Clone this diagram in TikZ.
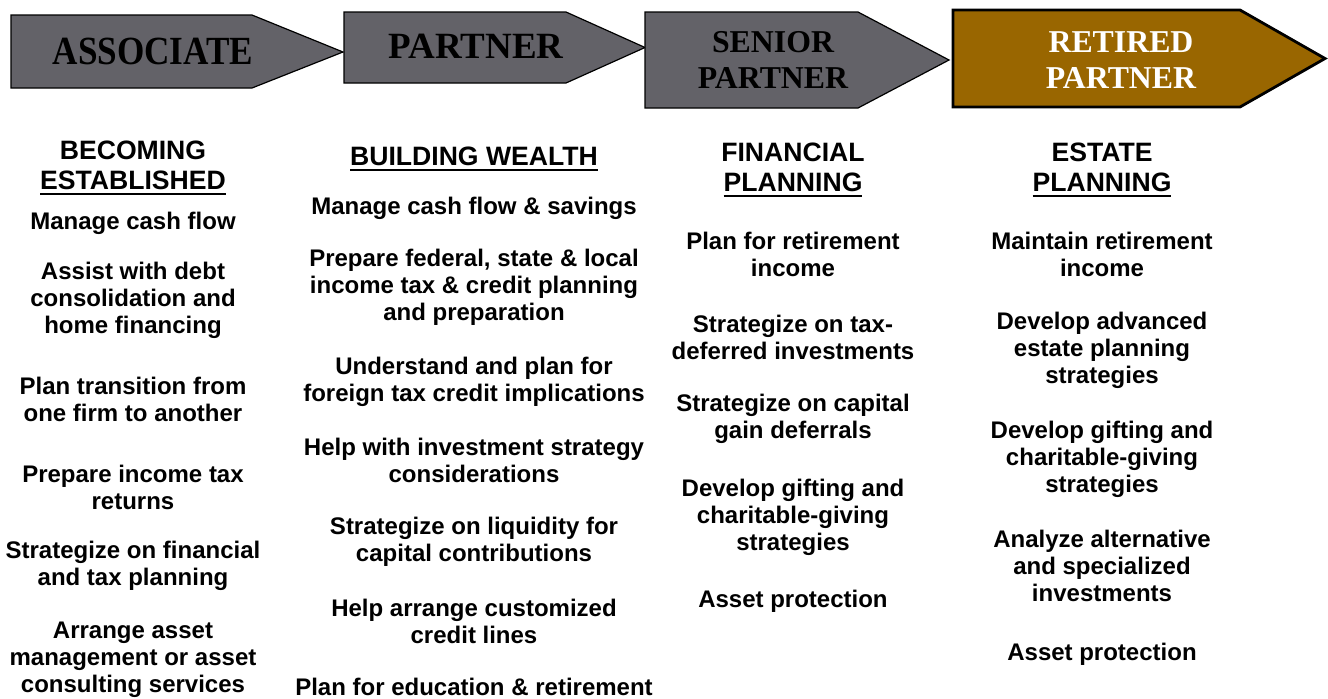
\documentclass[tikz,border=0pt]{standalone}
\usepackage{fontspec}
\setmainfont{Liberation Serif}
\setsansfont{Liberation Sans}
\usetikzlibrary{positioning}
\definecolor{stagegray}{RGB}{99,98,104}
\definecolor{retiredbrown}{RGB}{153,102,0}
\newcommand{\ulword}[1]{\setbox0\hbox{#1}\rlap{\rule[-3pt]{\wd0}{1pt}}\box0}

\begin{document}
\begin{tikzpicture}[x=0.5pt,y=-0.5pt]

\tikzset{stage/.style = {draw=black,fill=stagegray,line width=0.6pt,line join=miter}}
\tikzset{stagetext/.style = {inner sep=0pt,align=center,font=\bfseries\fontsize{18.5}{18}\selectfont}}
\tikzset{stagetwo/.style = {stagetext,font=\bfseries\fontsize{15.9}{18}\selectfont}}
\tikzset{head/.style = {inner sep=0pt,align=center,font=\sffamily\bfseries\fontsize{13.3}{15}\selectfont}}
\tikzset{item/.style = {inner sep=0pt,align=center,font=\sffamily\bfseries\fontsize{12}{13.5}\selectfont}}

\useasboundingbox (0,0) rectangle (1328,698);

%arrows
\draw[stage] (11,15) -- (252,15) -- (343,52) -- (252,88) -- (11,88) -- cycle;
\draw[stage] (344,12) -- (566,12) -- (645,47.5) -- (566,83) -- (344,83) -- cycle;
\draw[stage] (645,12) -- (858,12) -- (949,60) -- (858,108) -- (645,108) -- cycle;
\draw[stage,fill=retiredbrown,line width=1.4pt] (953,10) -- (1240,10) -- (1325,58.5) -- (1240,107) -- (953,107) -- cycle;

\node[stagetext] (associate) at (153,51) {\scalebox{0.95}[1.08]{ASSOCIATE}};
\node[stagetext] (partner) at (476,46) {PARTNER};
\node[stagetwo] (senior) at (773,60) {SENIOR\\PARTNER};
\node[stagetwo,text=white] (retired) at (1121,60) {RETIRED\\PARTNER};

%column 1
\node[head] (becoming) at (133,168) {BECOMING\\\ulword{ESTABLISHED}};
\node[item] (cash) at (133,223) {Manage cash flow};
\node[item] (debt) at (133,300) {Assist with debt\\consolidation and\\home financing};
\node[item] (transition) at (133,399) {Plan transition from\\one firm to another};
\node[item] (returns) at (133,487) {Prepare income tax\\returns};
\node[item] (fintax) at (133,566) {Strategize on financial\\and tax planning};
\node[item] (assetmgmt) at (133,660) {Arrange asset\\management or asset\\consulting services};

%column 2
\node[head] (wealth) at (474,159) {\ulword{BUILDING WEALTH}};
\node[item] (savings) at (474,208) {Manage cash flow \& savings};
\node[item] (taxprep) at (474,287) {Prepare federal, state \& local\\income tax \& credit planning\\and preparation};
\node[item] (foreign) at (474,382) {Understand and plan for\\foreign tax credit implications};
\node[item] (invest) at (474,460) {Help with investment strategy\\considerations};
\node[item] (liquidity) at (474,542) {Strategize on liquidity for\\capital contributions};
\node[item] (credit) at (474,621) {Help arrange customized\\credit lines};
\node[item] (education) at (474,687) {Plan for education \& retirement};

%column 3
\node[head] (financial) at (793,170) {FINANCIAL\\\ulword{PLANNING}};
\node[item] (retincome) at (793,254) {Plan for retirement\\income};
\node[item] (taxdef) at (793,337) {Strategize on tax-\\deferred investments};
\node[item] (capgain) at (793,419) {Strategize on capital\\gain deferrals};
\node[item] (gifting) at (793,517) {Develop gifting and\\charitable-giving\\strategies};
\node[item] (protect) at (793,601) {Asset protection};

%column 4
\node[head] (estate) at (1102,170) {ESTATE\\\ulword{PLANNING}};
\node[item] (maintain) at (1102,254) {Maintain retirement\\income};
\node[item] (advanced) at (1102,350) {Develop advanced\\estate planning\\strategies};
\node[item] (charity) at (1102,459) {Develop gifting and\\charitable-giving\\strategies};
\node[item] (alternative) at (1102,566) {Analyze alternative\\and specialized\\investments};
\node[item] (protect2) at (1102,654) {Asset protection};

\end{tikzpicture}
\end{document}
